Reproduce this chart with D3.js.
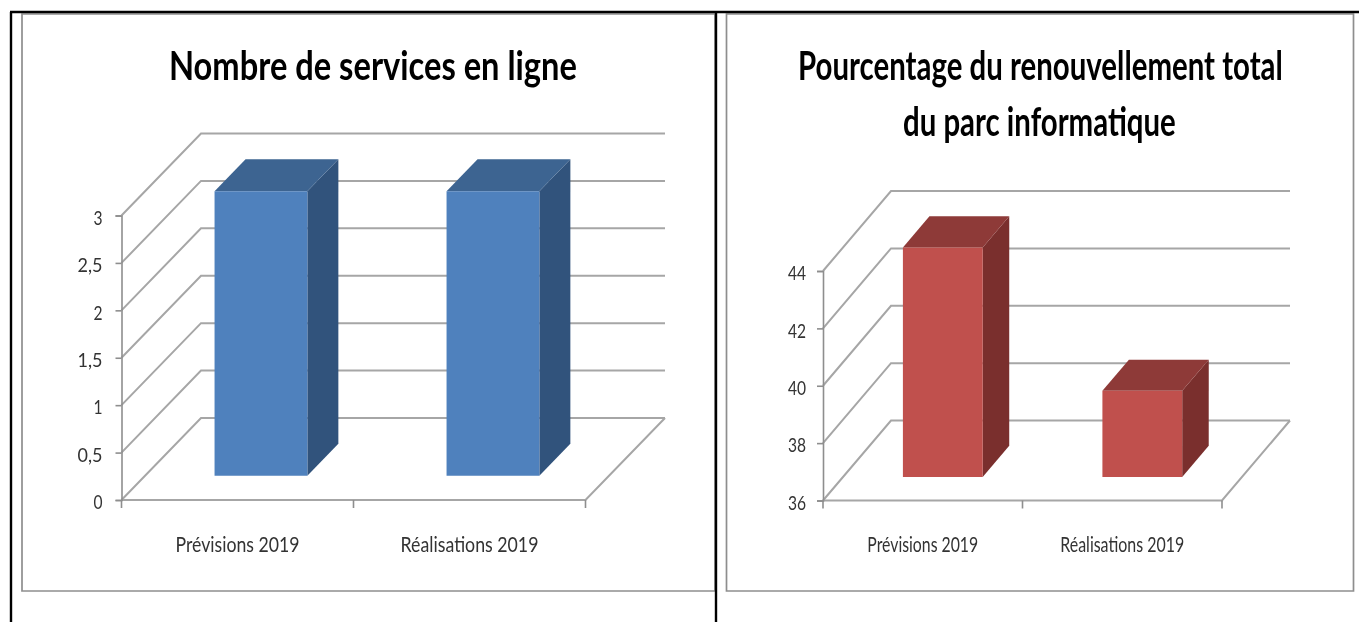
<!DOCTYPE html>
<html><head><meta charset="utf-8">
<script src="https://cdn.jsdelivr.net/npm/d3@7"></script>
<style>html,body{margin:0;padding:0;background:#fff}svg{display:block;filter:blur(0.45px)}text{font-family:Lato,"Open Sans",sans-serif}</style>
</head><body><svg id="c" width="1359" height="622"></svg>
<script>
const categories = ["Prévisions 2019", "Réalisations 2019"];
const servicesValues = [3, 3];
const renouvellementValues = [44, 39];
const servicesTicks = [0, 0.5, 1, 1.5, 2, 2.5, 3];
const renouvellementTicks = [36, 38, 40, 42, 44];
const servicesTitle = ["Nombre de services en ligne"];
const renouvellementTitle = ["Pourcentage du renouvellement total", "du parc informatique"];

const svg = d3.select("#c");
const grid = "#a6a6a6", frame = "#8e8e8e", ink = "#333333";

// squeeze a text horizontally about its own anchor
function squeeze(node, ax, s, shiftY) {
  d3.select(node).attr("transform", `translate(${ax},${shiftY || 0}) scale(${s},1) translate(${-ax},0)`);
}

function chart(o) {
  const g = svg.append("g");
  g.append("path").attr("fill", "none").attr("stroke", frame).attr("stroke-width", 1.7)
    .attr("d", `M${o.box[0]},${o.box[1]}V${o.box[3]}H${o.box[2]}V${o.box[1]}Z`);

  o.title.forEach((t, i) => {
    const n = g.append("text").text(t).attr("x", o.titleX[i]).attr("y", o.titleY[i])
      .attr("font-size", 41).attr("font-weight", 700).attr("fill", "#000");
    squeeze(n.node(), o.titleX[i], o.titleW[i] / n.node().getComputedTextLength());
  });

  const y = d3.scaleLinear().domain(o.domain).range([o.y0, o.yTop]);
  const x = d3.scaleBand().domain(categories).range([o.x0, o.x1]).paddingInner(0).paddingOuter(0);
  const px = (v, d) => v + o.dx * d, py = (v, d) => v - o.dy * d;

  const line = d3.line();
  o.ticks.forEach(t => {
    g.append("path").attr("fill", "none").attr("stroke", grid).attr("stroke-width", 2)
      .attr("d", line([[o.x0, y(t)], [px(o.x0, 1), py(y(t), 1)], [px(o.x1, 1), py(y(t), 1)]]));
  });
  g.append("path").attr("fill", "none").attr("stroke", grid).attr("stroke-width", 2)
    .attr("d", line([[px(o.x1, 1), py(o.y0, 1)], [o.x1, o.y0], [o.x0, o.y0]]));

  const ay = g.append("g").attr("transform", `translate(${o.x0},0)`)
    .call(d3.axisLeft(y).tickValues(o.ticks).tickSize(6).tickPadding(o.pad).tickFormat(v => String(v).replace(".", ",")));
  ay.selectAll("path,line").attr("stroke", frame).attr("stroke-width", 1.6);
  ay.selectAll("text").attr("font-size", 20).attr("fill", ink)
    .each(function () { squeeze(this, +d3.select(this).attr("x"), this.textContent.length === 3 ? 0.9 : 0.78, 2.3); });

  const ax = g.append("g").attr("transform", `translate(0,${o.y0})`)
    .call(d3.axisBottom(x).tickSize(0).tickPadding(o.xPad));
  ax.select("path").remove();
  ax.selectAll("text").attr("font-size", 20.5).attr("fill", ink)
    .each(function (d, i) { squeeze(this, 0, o.catW[i] / this.getComputedTextLength()); });
  const bounds = [x.range()[0]].concat(categories.map(c => x(c) + x.bandwidth()));
  g.selectAll("line.xt").data(bounds).join("line").attr("class", "xt")
    .attr("x1", d => d).attr("x2", d => d).attr("y1", o.y0).attr("y2", o.y0 + 8)
    .attr("stroke", frame).attr("stroke-width", 1.6);

  const d0 = 0.295, d1 = 0.685, bw = x.bandwidth() * 0.4;
  categories.forEach((c, i) => {
    const l = x(c) + (x.bandwidth() - bw) / 2, r = l + bw, v = y(o.values[i]), b = y(o.domain[0]);
    const P = (X, Y, d) => [px(X, d), py(Y, d)];
    g.append("path").attr("fill", o.side).attr("d", line([P(r, b, d0), P(r, b, d1), P(r, v, d1), P(r, v, d0)]) + "Z");
    g.append("path").attr("fill", o.top).attr("d", line([P(l, v, d0), P(r, v, d0), P(r, v, d1), P(l, v, d1)]) + "Z");
    g.append("path").attr("fill", o.front).attr("d", line([P(l, b, d0), P(r, b, d0), P(r, v, d0), P(l, v, d0)]) + "Z");
  });
}

chart({
  box: [22, 14, 715, 591], title: servicesTitle, titleX: [169], titleY: [80], titleW: [408],
  domain: [0, 3], ticks: servicesTicks, values: servicesValues,
  x0: 121.5, x1: 585.5, y0: 500, yTop: 215.5, dx: 79.5, dy: 82,
  pad: 13, xPad: 37, catW: [124, 138],
  front: "#4f81bd", top: "#3d6491", side: "#31537c"
});
chart({
  box: [726.5, 14, 1353.5, 591], title: renouvellementTitle, titleX: [798, 903], titleY: [80, 136], titleW: [485, 273],
  domain: [36, 44], ticks: renouvellementTicks, values: renouvellementValues,
  x0: 823, x1: 1222, y0: 500.5, yTop: 271, dx: 68, dy: 80,
  pad: 11, xPad: 37, catW: [111, 124],
  front: "#c0504d", top: "#8e3a38", side: "#7a2f2d"
});

// table rules
[[10, 12, 1359, 12], [11, 12, 11, 622], [716, 12, 716, 622]].forEach(l =>
  svg.append("line").attr("x1", l[0]).attr("y1", l[1]).attr("x2", l[2]).attr("y2", l[3])
    .attr("stroke", "#000").attr("stroke-width", 2.4));
</script></body></html>
